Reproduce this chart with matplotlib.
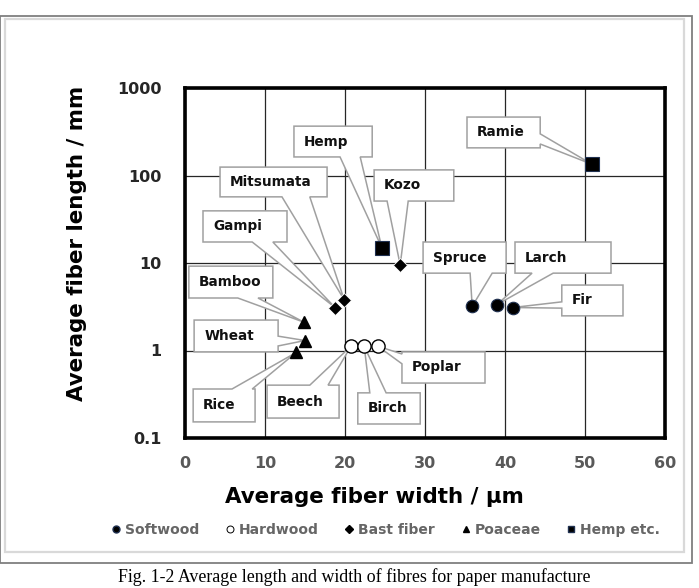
import numpy as np
import matplotlib
matplotlib.use("Agg")
import matplotlib.pyplot as plt
from matplotlib.patches import Polygon, Rectangle
from matplotlib.lines import Line2D

# dane: szerokość włókna [um], długość włókna [mm]
softwood_names = ["Spruce", "Larch", "Fir"]
softwood_w = [35.9, 39.0, 41.0]
softwood_l = [3.2, 3.35, 3.1]

hardwood_names = ["Beech", "Birch", "Poplar"]
hardwood_w = [20.75, 22.4, 24.1]
hardwood_l = [1.12, 1.12, 1.12]

bast_names = ["Gampi", "Mitsumata", "Kozo"]
bast_w = [18.75, 19.9, 26.9]
bast_l = [3.1, 3.8, 9.5]

poaceae_names = ["Bamboo", "Wheat", "Rice"]
poaceae_w = [14.9, 15.0, 13.9]
poaceae_l = [2.1, 1.3, 0.95]

hemp_names = ["Hemp", "Ramie"]
hemp_w = [24.6, 50.9]
hemp_l = [15.0, 134.0]

legend_labels = ["Softwood", "Hardwood", "Bast fiber", "Poaceae", "Hemp etc."]
x_ticks = [0, 10, 20, 30, 40, 50, 60]
y_ticks = [0.1, 1, 10, 100, 1000]
y_tick_labels = ["0.1", "1", "10", "100", "1000"]

# ramki opisów (ułamki osi): x0, x1, y_dół, y_góra, strona klina, podstawa klina
callouts = {
    "Hemp": (0.227, 0.390, 0.803, 0.891, "bottom", (0.323, 0.365)),
    "Mitsumata": (0.073, 0.296, 0.689, 0.774, "bottom", (0.202, 0.260)),
    "Gampi": (0.0375, 0.2125, 0.560, 0.649, "bottom", (0.140, 0.183)),
    "Kozo": (0.394, 0.560, 0.677, 0.766, "bottom", (0.421, 0.465)),
    "Ramie": (0.5875, 0.740, 0.829, 0.917, "right", (0.840, 0.869)),
    "Spruce": (0.496, 0.669, 0.471, 0.560, "bottom", (0.594, 0.640)),
    "Larch": (0.6875, 0.8875, 0.471, 0.560, "bottom", (0.723, 0.767)),
    "Fir": (0.785, 0.9125, 0.349, 0.437, "left", (0.371, 0.389)),
    "Bamboo": (0.008, 0.183, 0.400, 0.491, "bottom", (0.110, 0.152)),
    "Wheat": (0.019, 0.194, 0.246, 0.337, "right", (0.263, 0.291)),
    "Rice": (0.017, 0.146, 0.046, 0.140, "top", (0.098, 0.140)),
    "Beech": (0.171, 0.321, 0.057, 0.151, "top", (0.260, 0.298)),
    "Birch": (0.360, 0.490, 0.040, 0.129, "top", (0.385, 0.419)),
    "Poplar": (0.452, 0.625, 0.157, 0.246, "left", (0.212, 0.240)),
}


def callout_poly(x0, x1, yb, yt, side, base, tip):
    a, b = base
    if side == "bottom":
        pts = [(x0, yb), (a, yb), tip, (b, yb), (x1, yb), (x1, yt), (x0, yt)]
    elif side == "right":
        pts = [(x0, yb), (x1, yb), (x1, a), tip, (x1, b), (x1, yt), (x0, yt)]
    elif side == "top":
        pts = [(x0, yb), (x1, yb), (x1, yt), (b, yt), tip, (a, yt), (x0, yt)]
    else:
        pts = [(x0, yb), (x1, yb), (x1, yt), (x0, yt), (x0, b), tip, (x0, a)]
    return pts


W, H = 699, 588
fig = plt.figure(figsize=(W / 100, H / 100), dpi=100)

# ramki wokół rysunku
fig.add_artist(Rectangle((0 / W, 1 - 563 / H), 692 / W, 547 / H, transform=fig.transFigure,
                         fill=False, ec="#7f7f7f", lw=1.3))
fig.add_artist(Rectangle((5 / W, 1 - 552 / H), 679 / W, 533 / H, transform=fig.transFigure,
                         fill=False, ec="#d9d9d9", lw=1.6))

ax = fig.add_axes([185 / W, 1 - 438 / H, 480 / W, 350 / H])
ax.set_xlim(0, 60)
ax.set_yscale("log")
ax.set_ylim(0.1, 1000)
ax.set_xticks(x_ticks)
ax.set_yticks(y_ticks, y_tick_labels)
ax.minorticks_off()
ax.tick_params(length=0, labelsize=11.5)
ax.tick_params(axis="x", pad=13, labelcolor="#595959")
ax.tick_params(axis="y", pad=17, labelcolor="#262626")
for lab in ax.get_xticklabels() + ax.get_yticklabels():
    lab.set_fontweight("bold")
ax.grid(True, color="#262626", lw=0.9)
ax.set_axisbelow(True)
for sp in ax.spines.values():
    sp.set_linewidth(2.6)
    sp.set_color("black")
    sp.set_zorder(6)

# opisy z klinami
all_names = softwood_names + hardwood_names + bast_names + poaceae_names + hemp_names
all_w = softwood_w + hardwood_w + bast_w + poaceae_w + hemp_w
all_l = softwood_l + hardwood_l + bast_l + poaceae_l + hemp_l
to_axes = ax.transAxes.inverted()
for name, wv, lv in zip(all_names, all_w, all_l):
    x0, x1, yb, yt, side, base = callouts[name]
    tip = tuple(to_axes.transform(ax.transData.transform((wv, lv))))
    poly = Polygon(callout_poly(x0, x1, yb, yt, side, base, tip), closed=True,
                   transform=ax.transAxes, fc="white", ec="#a0a0a0", lw=1.1, zorder=3)
    ax.add_patch(poly)
    ax.text(x0 + 0.021, (yb + yt) / 2, name, transform=ax.transAxes, fontsize=9.8,
            fontweight="bold", color="#111111", ha="left", va="center", zorder=4)

# punkty
ax.plot(softwood_w, softwood_l, "o", ms=9, mfc="black", mec="#1f3050", mew=0.8, ls="none", zorder=5)
ax.plot(hardwood_w, hardwood_l, "o", ms=9.5, mfc="white", mec="black", mew=1.0, ls="none", zorder=5)
ax.plot(bast_w, bast_l, "D", ms=7.5, mfc="black", mec="white", mew=0.6, ls="none", zorder=5)
ax.plot(poaceae_w, poaceae_l, "^", ms=9, mfc="black", mec="black", ls="none", zorder=5)
ax.plot(hemp_w, hemp_l, "s", ms=10, mfc="black", mec="#1f3050", mew=0.8, ls="none", zorder=5)

fig.text(374 / W, 1 - 497 / H, "Average fiber width / μm", ha="center", va="center",
         fontsize=15.4, fontweight="bold")
fig.text(77 / W, 1 - 243 / H, "Average fiber length / mm", ha="center", va="center",
         rotation=90, fontsize=15.4, fontweight="bold")

# legenda
handles = [
    Line2D([], [], marker="o", ls="none", ms=5, mfc="black", mec="#1f3050"),
    Line2D([], [], marker="o", ls="none", ms=5, mfc="white", mec="black", mew=0.7),
    Line2D([], [], marker="D", ls="none", ms=4, mfc="black", mec="black"),
    Line2D([], [], marker="^", ls="none", ms=5, mfc="black", mec="black"),
    Line2D([], [], marker="s", ls="none", ms=5, mfc="black", mec="#1f3050"),
]
fig.legend(handles, legend_labels, loc="center", bbox_to_anchor=(386 / W, 1 - 530 / H),
           ncol=5, frameon=False, handlelength=0.6, handletextpad=0.35, columnspacing=1.9,
           prop={"size": 10, "weight": "bold"}, labelcolor="#666666")

fig.text(354 / W, 1 - 577 / H, "Fig. 1-2 Average length and width of fibres for paper manufacture",
         ha="center", va="center", fontsize=12.9, family="Liberation Serif")

fig.savefig("out.png", dpi=100)
